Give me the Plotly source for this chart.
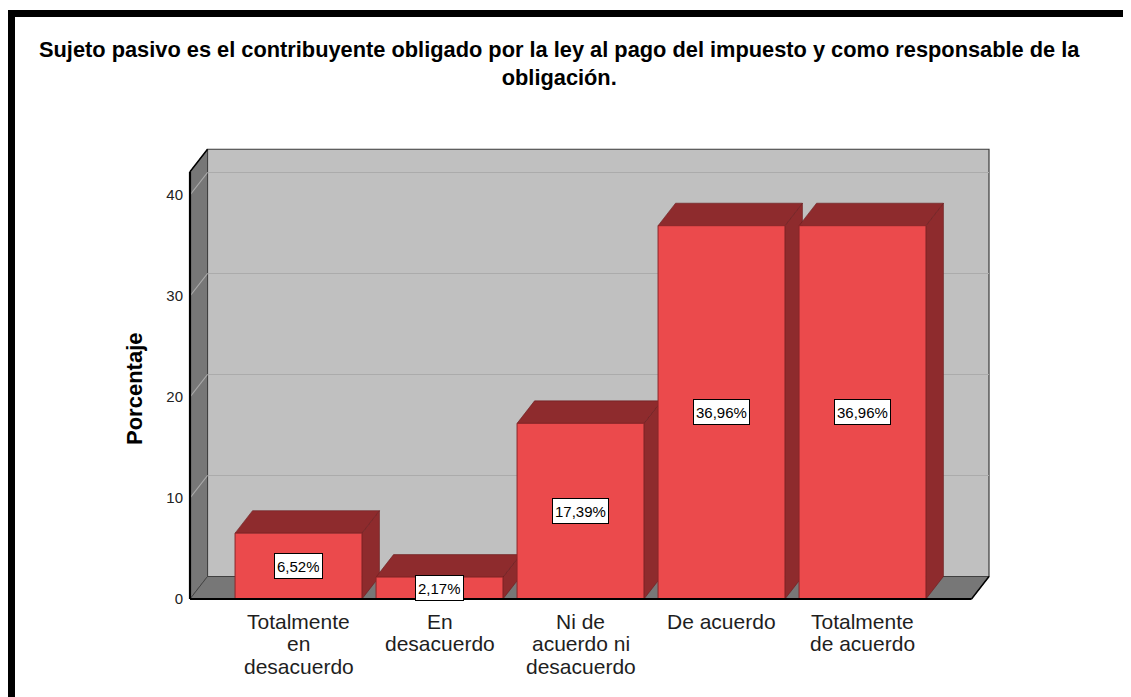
import plotly.graph_objects as go

# ---------------- data ----------------
categories = [
    "Totalmente\nen\ndesacuerdo",
    "En\ndesacuerdo",
    "Ni de\nacuerdo ni\ndesacuerdo",
    "De acuerdo",
    "Totalmente\nde acuerdo",
]
percentages = [6.52, 2.17, 17.39, 36.96, 36.96]
y_ticks = [0, 10, 20, 30, 40]
title_lines = [
    "Sujeto pasivo es el contribuyente obligado por la ley al pago del impuesto y como responsable de la",
    "obligación.",
]
y_title = "Porcentaje"

# ---------------- layout geometry (reference pixel coordinates) ----------------
W, H = 1131, 697
OFF = 8                                      # page body margin
PL, PR, PT, PB = 186, 992, 147, 602          # plot rect in px
PX_X, PX_Y = 141.0, 10.1                     # px per unit
X0_PX, Y0_PX = 298.5, 599.0                  # px of x=0 and y=0
x_range = [(PL - X0_PX) / PX_X, (PR - X0_PX) / PX_X]
y_range = [-(PB - Y0_PX) / PX_Y, (Y0_PX - PT) / PX_Y]
L = (190 - X0_PX) / PX_X                     # front-left edge of floor
R = (989 - X0_PX) / PX_X                     # back-right edge of wall
DX = 17.5 / PX_X                             # depth offset (x)
DY = 22.5 / PX_Y                             # depth offset (y)
Y_FRONT_TOP = 42.3
Y_BACK_TOP = Y_FRONT_TOP + DY
BAR_W = 0.9

FONT = "Liberation Sans, Arial, sans-serif"
RED = "#EB4A4C"
DARK_RED = "#8E2B2D"
WALL = "#C0C0C0"
SIDE = "#777777"
GRID = "#ABABAB"


def px_to_paper_x(px):
    return (px - PL) / (PR - PL)


def px_to_paper_y(py):
    return (PB - py) / (PB - PT)


def poly(points):
    return "M " + " L ".join(f"{x},{y}" for x, y in points) + " Z"


shapes = []
# back wall
shapes.append(dict(type="path", path=poly([(L + DX, DY), (R, DY), (R, Y_BACK_TOP), (L + DX, Y_BACK_TOP)]),
                   fillcolor=WALL, line=dict(color="#3a3a3a", width=1.2), layer="below"))
# left wall
shapes.append(dict(type="path", path=poly([(L, 0), (L + DX, DY), (L + DX, Y_BACK_TOP), (L, Y_FRONT_TOP)]),
                   fillcolor=SIDE, line=dict(color="#3a3a3a", width=0.8), layer="below"))
# floor
shapes.append(dict(type="path", path=poly([(L, 0), (R - DX, 0), (R, DY), (L + DX, DY)]),
                   fillcolor=SIDE, line=dict(color="#3a3a3a", width=0.8), layer="below"))
# grid lines (back wall + left wall diagonals)
for t in y_ticks[1:]:
    shapes.append(dict(type="line", x0=L + DX, x1=R, y0=t + DY, y1=t + DY,
                       line=dict(color=GRID, width=1.2), layer="below"))
    shapes.append(dict(type="line", x0=L, x1=L + DX, y0=t, y1=t + DY,
                       line=dict(color=GRID, width=1.2), layer="below"))
# 3D faces of bars (side + top)
for i, v in enumerate(percentages):
    xl, xr = i - BAR_W / 2, i + BAR_W / 2
    shapes.append(dict(type="path", path=poly([(xr, 0), (xr + DX, DY), (xr + DX, v + DY), (xr, v)]),
                       fillcolor=DARK_RED, line=dict(color="#6a1c1e", width=0.6), layer="below"))
    shapes.append(dict(type="path", path=poly([(xl, v), (xl + DX, v + DY), (xr + DX, v + DY), (xr, v)]),
                       fillcolor=DARK_RED, line=dict(color="#6a1c1e", width=0.6), layer="below"))
# front edges (black)
shapes.append(dict(type="line", x0=L, x1=L, y0=0, y1=Y_FRONT_TOP, line=dict(color="black", width=2.2), layer="above"))
shapes.append(dict(type="line", x0=L, x1=R - DX, y0=0, y1=0, line=dict(color="black", width=2), layer="above"))
shapes.append(dict(type="line", x0=R - DX, x1=R, y0=0, y1=DY, line=dict(color="black", width=1.5), layer="above"))
shapes.append(dict(type="line", x0=L, x1=L + DX, y0=Y_FRONT_TOP, y1=Y_BACK_TOP, line=dict(color="black", width=1.5), layer="above"))
# outer frame
shapes.append(dict(type="rect", xref="paper", yref="paper",
                   x0=px_to_paper_x(11.5), x1=px_to_paper_x(1250),
                   y0=px_to_paper_y(800), y1=px_to_paper_y(13.5),
                   line=dict(color="black", width=7), fillcolor="rgba(0,0,0,0)", layer="above"))

fig = go.Figure()
fig.add_trace(go.Bar(
    x=list(range(len(categories))), y=percentages, width=BAR_W,
    marker=dict(color=RED, line=dict(color="#8a2628", width=1)),
    hoverinfo="skip",
))

annotations = []
# value labels
for i, v in enumerate(percentages):
    annotations.append(dict(
        x=i, y=v / 2, xref="x", yref="y", text=f"{v:.2f}%".replace(".", ","),
        showarrow=False, font=dict(family=FONT, size=15, color="black"),
        bgcolor="white", bordercolor="black", borderwidth=1, borderpad=2, height=20,
        xanchor="center", yanchor="middle"))
# category labels
for i, cat in enumerate(categories):
    for k, line in enumerate(cat.split("\n")):
        annotations.append(dict(
            x=i, xref="x", y=px_to_paper_y(621 + 22.5 * k), yref="paper", text=line,
            showarrow=False, font=dict(family=FONT, size=21, color="#1e1e1e"),
            xanchor="center", yanchor="middle"))
# title (one text block, two lines)
annotations.append(dict(
    x=px_to_paper_x(559), xref="paper", y=px_to_paper_y(64), yref="paper",
    text="<br>".join(f"<b>{line}</b>" for line in title_lines), showarrow=False,
    font=dict(family=FONT, size=21.8, color="black"),
    xanchor="center", yanchor="middle", align="center"))
# y axis title
annotations.append(dict(
    x=px_to_paper_x(134), xref="paper", y=px_to_paper_y(389), yref="paper",
    text=f"<b>{y_title}</b>", textangle=-90, showarrow=False,
    font=dict(family=FONT, size=22, color="black"),
    xanchor="center", yanchor="middle"))

fig.update_layout(
    width=W - OFF, height=H - OFF,
    margin=dict(l=PL - OFF, r=W - PR, t=PT - OFF, b=H - PB, pad=0),
    paper_bgcolor="white", plot_bgcolor="white",
    showlegend=False,
    shapes=shapes, annotations=annotations,
    xaxis=dict(range=x_range, showgrid=False, zeroline=False, showline=False,
               showticklabels=False, ticks="", fixedrange=True),
    yaxis=dict(range=y_range, tickvals=y_ticks, ticktext=[str(t) for t in y_ticks],
               showgrid=False, zeroline=False, showline=False, ticks="",
               ticklabelstandoff=2,
               tickfont=dict(family=FONT, size=15, color="#222222"), fixedrange=True),
)

fig.write_html("out.html")
